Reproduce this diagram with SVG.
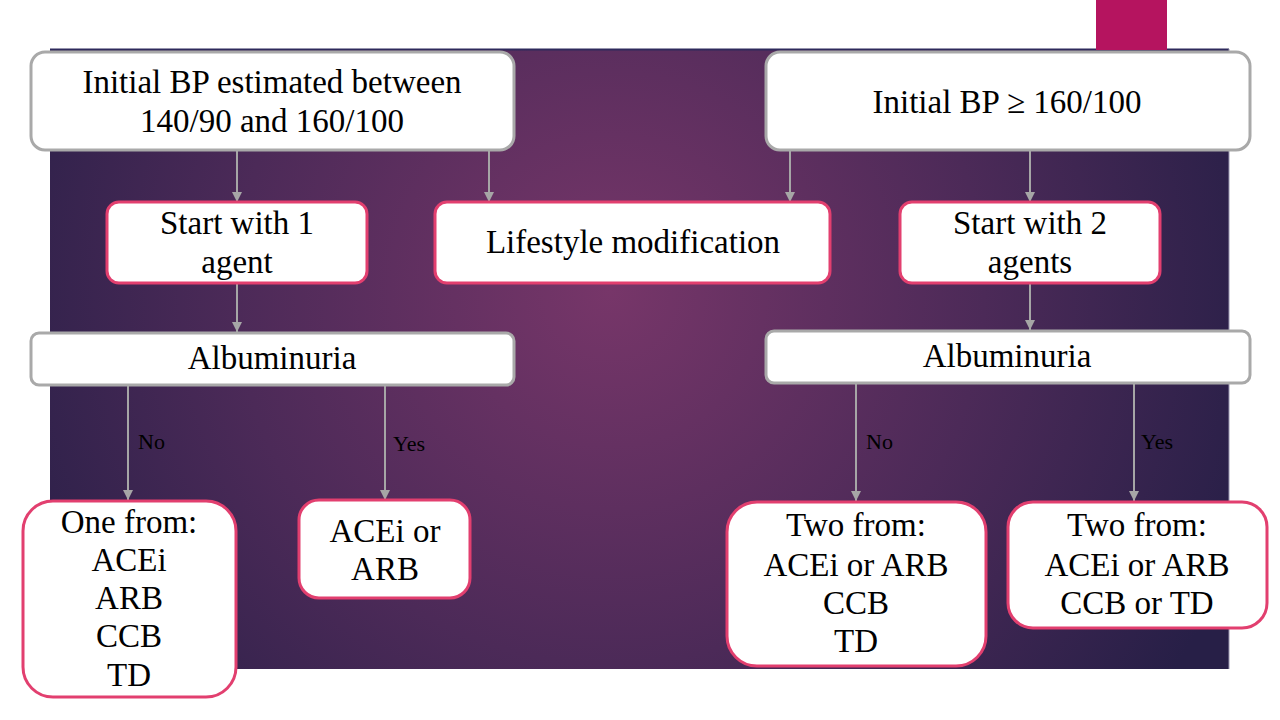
<svg xmlns="http://www.w3.org/2000/svg" width="1280" height="720" viewBox="0 0 1280 720">
<defs>
<radialGradient id="bg" gradientUnits="userSpaceOnUse" cx="610" cy="290" r="680">
<stop offset="0" stop-color="#773669"/>
<stop offset="0.55" stop-color="#4c2a58"/>
<stop offset="1" stop-color="#271f47"/>
</radialGradient>
<marker id="arr" viewBox="0 0 10 10" refX="10" refY="5" markerWidth="5" markerHeight="5" orient="auto" markerUnits="strokeWidth">
<path d="M0,0 L10,5 L0,10 Z" fill="#a6a6a6"/>
</marker>
</defs>
<style>
.grey{fill:#ffffff;stroke:#a9a9a9;stroke-width:3}
.pink{fill:#ffffff;stroke:#e23f6f;stroke-width:3}
.t{font-family:"Liberation Serif","DejaVu Serif",serif;font-size:33px;fill:#000;text-anchor:middle}
.lbl{font-family:"Liberation Serif","DejaVu Serif",serif;font-size:22px;fill:#000}
.c{stroke:#a6a6a6;stroke-width:2;fill:none;marker-end:url(#arr)}
</style>
<rect x="0" y="0" width="1280" height="720" fill="#ffffff"/>
<rect x="50" y="49" width="1179" height="620" fill="url(#bg)"/>
<line x1="50" y1="49.5" x2="1229" y2="49.5" stroke="#2e2a5c" stroke-width="2"/>
<line x1="1229" y1="49" x2="1229" y2="669" stroke="#9a96b0" stroke-width="1"/>
<rect x="1096" y="0" width="71" height="50" fill="#b5145f"/>

<g id="connectors">
<line class="c" x1="237" y1="151" x2="237" y2="202"/>
<line class="c" x1="489" y1="151" x2="489" y2="202"/>
<line class="c" x1="790" y1="151" x2="790" y2="202"/>
<line class="c" x1="1030" y1="151" x2="1030" y2="202"/>
<line class="c" x1="237" y1="284" x2="237" y2="332"/>
<line class="c" x1="1030" y1="284" x2="1030" y2="330"/>
<line class="c" x1="128" y1="386" x2="128" y2="500"/>
<line class="c" x1="385" y1="386" x2="385" y2="500"/>
<line class="c" x1="856" y1="384" x2="856" y2="501"/>
<line class="c" x1="1134" y1="384" x2="1134" y2="501"/>
<text class="lbl" x="138" y="449">No</text>
<text class="lbl" x="393" y="451">Yes</text>
<text class="lbl" x="866" y="449">No</text>
<text class="lbl" x="1141" y="449">Yes</text>
</g>

<g id="n-initial-low">
<rect class="grey" x="31" y="52" width="483" height="98" rx="14"/>
<text class="t" x="272" y="93">Initial BP estimated between</text>
<text class="t" x="272" y="132">140/90 and 160/100</text>
</g>
<g id="n-initial-high">
<rect class="grey" x="766" y="52" width="484" height="98" rx="14"/>
<text class="t" x="1007" y="113">Initial BP ≥ 160/100</text>
</g>
<g id="n-start1">
<rect class="pink" x="107" y="202" width="260" height="81" rx="12"/>
<text class="t" x="237" y="234">Start with 1</text>
<text class="t" x="237" y="273">agent</text>
</g>
<g id="n-lifestyle">
<rect class="pink" x="435" y="202" width="395" height="81" rx="12"/>
<text class="t" x="633" y="253">Lifestyle modification</text>
</g>
<g id="n-start2">
<rect class="pink" x="900" y="202" width="260" height="81" rx="12"/>
<text class="t" x="1030" y="234">Start with 2</text>
<text class="t" x="1030" y="273">agents</text>
</g>
<g id="n-alb-left">
<rect class="grey" x="31" y="333" width="483" height="52" rx="8"/>
<text class="t" x="272" y="369">Albuminuria</text>
</g>
<g id="n-alb-right">
<rect class="grey" x="766" y="331" width="484" height="52" rx="8"/>
<text class="t" x="1007" y="367">Albuminuria</text>
</g>
<g id="n-one-from">
<rect class="pink" x="23" y="501" width="213" height="196" rx="30"/>
<text class="t" x="129" y="533">One from:</text>
<text class="t" x="129" y="571">ACEi</text>
<text class="t" x="129" y="609">ARB</text>
<text class="t" x="129" y="647">CCB</text>
<text class="t" x="129" y="686">TD</text>
</g>
<g id="n-acei-arb">
<rect class="pink" x="299" y="500" width="171" height="98" rx="20"/>
<text class="t" x="385" y="542">ACEi or</text>
<text class="t" x="385" y="580">ARB</text>
</g>
<g id="n-two-from-a">
<rect class="pink" x="727" y="502" width="259" height="164" rx="30"/>
<text class="t" x="856" y="536">Two from:</text>
<text class="t" x="856" y="576">ACEi or ARB</text>
<text class="t" x="856" y="614">CCB</text>
<text class="t" x="856" y="652">TD</text>
</g>
<g id="n-two-from-b">
<rect class="pink" x="1008" y="502" width="259" height="126" rx="25"/>
<text class="t" x="1137" y="536">Two from:</text>
<text class="t" x="1137" y="576">ACEi or ARB</text>
<text class="t" x="1137" y="614">CCB or TD</text>
</g>
</svg>
